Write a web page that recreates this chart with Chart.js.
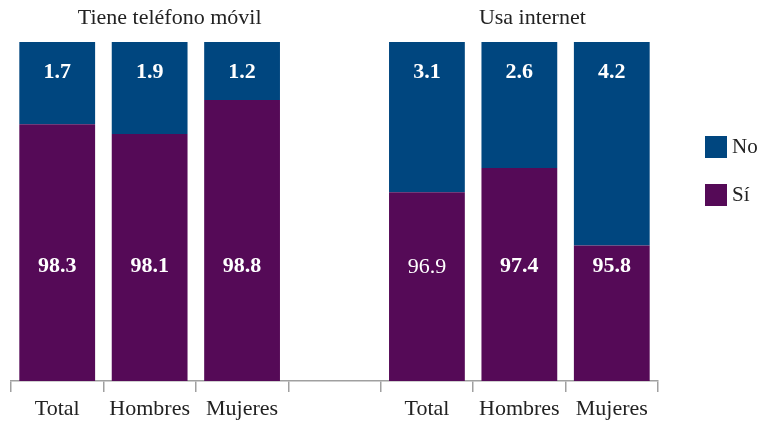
<!DOCTYPE html>
<html>
<head>
<meta charset="utf-8">
<script src="https://cdn.jsdelivr.net/npm/chart.js@4"></script>
<style>
  html, body { margin: 0; padding: 0; background: #fff; }
  #wrap { width: 762px; height: 423px; }
</style>
</head>
<body>
<div id="wrap"><canvas id="grafica"></canvas></div>
<script>
const categorias = ['Total', 'Hombres', 'Mujeres', '', 'Total', 'Hombres', 'Mujeres'];
const si = [98.3, 98.1, 98.8, null, 96.9, 97.4, 95.8];
const no = [1.7, 1.9, 1.2, null, 3.1, 2.6, 4.2];
const grupos = ['Tiene teléfono móvil', 'Usa internet'];
const ejeMin = 93;
const ejeMax = 100;

const azul = '#00467f';
const morado = '#550a57';
const fuente = "'Liberation Serif', 'DejaVu Serif', serif";

// etiquetas blancas dentro de las barras
const etiquetas = {
  id: 'etiquetas',
  afterDatasetsDraw(chart) {
    const ctx = chart.ctx;
    const y = chart.scales.y;
    ctx.save();
    ctx.fillStyle = '#fff';
    ctx.textAlign = 'center';
    ctx.textBaseline = 'middle';
    chart.data.datasets.forEach((ds, i) => {
      const meta = chart.getDatasetMeta(i);
      const yPos = i === 0 ? y.getPixelForValue(95.38) : y.getPixelForValue(99.4);
      meta.data.forEach((bar, j) => {
        if (ds.data[j] == null) return;
        const normal = i === 0 && j === 4; // 96.9 sale sin negrita
        ctx.font = (normal ? '' : 'bold ') + '22px ' + fuente;
        ctx.fillText(ds.data[j].toFixed(1), bar.x, yPos + 1);
      });
    });
    ctx.restore();
  }
};

// titulos de grupo y leyenda a la derecha
const extras = {
  id: 'extras',
  afterDraw(chart) {
    const ctx = chart.ctx;
    const x = chart.scales.x;
    ctx.save();
    ctx.fillStyle = '#222';
    ctx.font = '22px ' + fuente;
    ctx.textAlign = 'center';
    ctx.textBaseline = 'middle';
    ctx.fillText(grupos[0], x.getPixelForValue(1) + 20, 18);
    ctx.fillText(grupos[1], x.getPixelForValue(5) + 13, 18);

    const items = [chart.data.datasets[1], chart.data.datasets[0]];
    ctx.font = '21px ' + fuente;
    items.forEach((ds, k) => {
      const cy = 147 + k * 48;
      ctx.fillStyle = ds.backgroundColor;
      ctx.fillRect(705, cy - 11, 22, 22);
      ctx.fillStyle = '#222';
      ctx.textAlign = 'left';
      ctx.fillText(ds.label, 732, cy);
    });
    ctx.restore();
  }
};

const config = {
  type: 'bar',
  data: {
    labels: categorias,
    datasets: [
      { label: 'Sí', data: si, backgroundColor: morado, barPercentage: 0.82, categoryPercentage: 1 },
      { label: 'No', data: no, backgroundColor: azul, barPercentage: 0.82, categoryPercentage: 1 }
    ]
  },
  options: {
    responsive: true,
    maintainAspectRatio: false,
    animation: false,
    layout: { padding: { left: 11, right: 104, top: 42, bottom: 0 } },
    plugins: {
      legend: { display: false },
      tooltip: { enabled: false }
    },
    scales: {
      x: {
        stacked: true,
        afterFit: s => { s.height = 42; },
        border: { color: '#a0a0a0', width: 1.5 },
        grid: { display: true, drawOnChartArea: false, offset: true, tickLength: 11, color: '#a0a0a0', lineWidth: 1.5 },
        ticks: { color: '#222', font: { family: fuente, size: 22 }, padding: 4, maxRotation: 0, autoSkip: false }
      },
      y: {
        stacked: true,
        display: false,
        min: ejeMin,
        max: ejeMax
      }
    }
  },
  plugins: [etiquetas, extras]
};

const chart = new Chart(document.querySelector('#grafica'), config);
</script>
</body>
</html>
